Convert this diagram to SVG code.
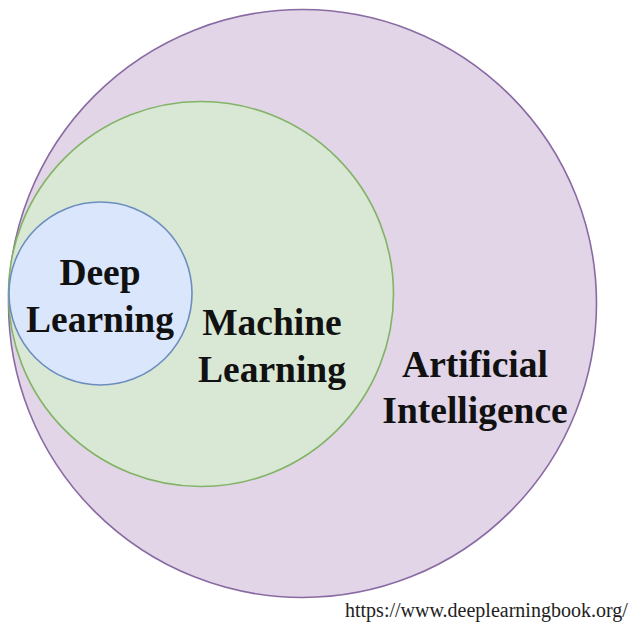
<svg xmlns="http://www.w3.org/2000/svg" width="640" height="630" viewBox="0 0 640 630">
<style>
.lbl{font-family:"Liberation Serif","Times New Roman",serif;font-weight:bold;font-size:37.5px;fill:#111;text-anchor:middle}
.url{font-family:"Liberation Serif","Times New Roman",serif;font-size:20px;fill:#222}
</style>
<rect width="640" height="630" fill="#ffffff"/>
<g id="ai">
<circle cx="302.5" cy="303.5" r="294" fill="#e1d5e7" stroke="#8a6aa3" stroke-width="1.6"/>
<text class="lbl" x="475" y="377">Artificial</text>
<text class="lbl" x="475" y="423">Intelligence</text>
</g>
<g id="ml">
<circle cx="201" cy="294" r="192.5" fill="#d9e8d4" stroke="#82b366" stroke-width="1.6"/>
<text class="lbl" x="272" y="335">Machine</text>
<text class="lbl" x="272" y="382">Learning</text>
</g>
<g id="dl">
<circle cx="100.5" cy="293.5" r="91.5" fill="#dae6fb" stroke="#6c8ebf" stroke-width="1.6"/>
<text class="lbl" x="100" y="285">Deep</text>
<text class="lbl" x="100" y="332">Learning</text>
</g>
<g id="connectors"></g>
<text class="url" x="345" y="617">https://www.deeplearningbook.org/</text>
</svg>
